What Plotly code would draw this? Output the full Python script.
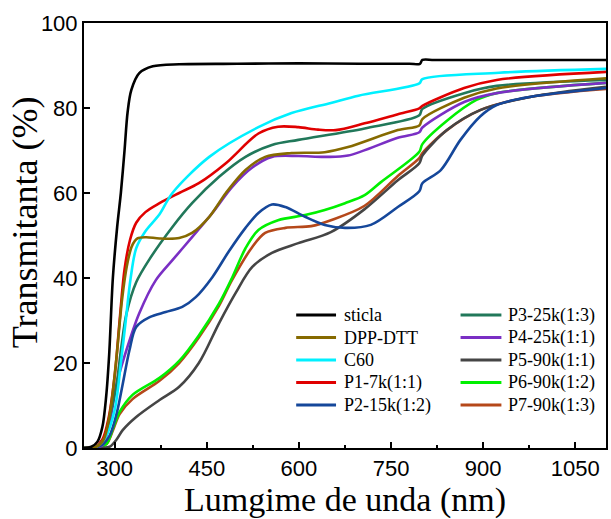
import plotly.graph_objects as go

# Transmittance spectra (wavelength in nm, transmittance in %)
wl_sticla = [250, 262, 272, 280, 286, 291, 297, 304, 310, 316, 321, 327, 340, 362, 405, 500, 600, 700, 780, 797, 801, 820, 900, 1100]
t_sticla = [0, 0.3, 1.5, 5, 12, 22, 40, 52, 60, 70, 79, 84.2, 88.2, 89.8, 90.3, 90.4, 90.5, 90.4, 90.4, 90.4, 91.3, 91.3, 91.3, 91.3]

wl_dpp = [250, 270, 282, 292, 302, 312, 320, 328, 337, 351, 373, 405, 426, 454, 481, 513, 545, 588, 642, 680, 761, 796, 801, 869, 922, 1100]
t_dpp = [0, 0.3, 2, 8, 20, 35, 43, 47.5, 49.3, 49.6, 49.3, 49.4, 50.6, 54.4, 60, 65.4, 68.5, 69.4, 69.6, 70.8, 74.8, 75.9, 77.4, 82.4, 84.6, 87]

wl_c60 = [250, 270, 285, 300, 310, 318, 326, 335, 350, 373, 394, 454, 534, 588, 652, 697, 796, 801, 926, 1100]
t_c60 = [0, 0.3, 2.5, 9, 20, 30, 40, 47, 51, 55, 60, 68.5, 75.5, 78.8, 81.2, 82.9, 85.8, 86.8, 88.3, 89.2]

wl_p1 = [250, 268, 280, 290, 300, 308, 316, 325, 335, 350, 373, 405, 437, 481, 534, 566, 599, 631, 660, 707, 760, 796, 801, 869, 922, 1100]
t_p1 = [0, 0.3, 2, 7, 17, 30, 42, 49, 53, 55.5, 57.6, 60, 62.3, 67, 74, 75.6, 75.5, 74.9, 74.8, 76.4, 78.5, 79.9, 80.5, 84.7, 86.6, 88.5]

wl_p2 = [250, 270, 282, 292, 303, 313, 324, 335, 357, 383, 410, 432, 459, 486, 513, 534, 556, 578, 610, 642, 675, 717, 761, 796, 801, 831, 863, 895, 922, 976, 1100]
t_p2 = [0, 0.2, 1, 3, 8, 15, 23, 28.5, 30.8, 32, 33.2, 35.5, 40.2, 46.3, 51.8, 55.3, 57.3, 56.7, 54.4, 52.5, 51.8, 52.5, 56.7, 60.4, 62.3, 65.4, 72.5, 78, 80.7, 82.6, 84.7]

wl_p3 = [250, 270, 283, 293, 303, 311, 319, 335, 357, 394, 426, 470, 513, 556, 599, 707, 796, 801, 869, 922, 1100]
t_p3 = [0, 0.3, 2.5, 8, 15, 24, 31.5, 39, 44.5, 52, 57.6, 63.8, 68.5, 71.3, 72.5, 75.2, 78.3, 79.8, 83.5, 85.2, 86.6]

wl_p4 = [250, 272, 281, 292, 303, 319, 340, 367, 394, 426, 459, 491, 524, 556, 599, 642, 680, 761, 796, 801, 869, 922, 1100]
t_p4 = [0, 0.2, 0.8, 6, 15, 23, 31.7, 39.5, 44.2, 49.6, 55.3, 61.4, 66, 68.5, 68.7, 68.5, 68.8, 73, 74.3, 75.4, 81.4, 83.5, 85.9]

wl_p5 = [250, 280, 292, 303, 313, 335, 373, 405, 437, 470, 497, 524, 556, 599, 652, 707, 761, 796, 801, 841, 895, 976, 1100]
t_p5 = [0, 0, 0.3, 2, 4.2, 7.3, 11.3, 14.4, 20, 29.4, 36.5, 42.6, 45.9, 48.2, 50.8, 56.2, 63, 67, 68.8, 74.8, 79.5, 82.6, 85]

wl_p6 = [250, 275, 287, 298, 308, 329, 373, 405, 437, 470, 491, 513, 534, 566, 610, 642, 675, 707, 733, 796, 801, 841, 889, 922, 1100]
t_p6 = [0, 0.2, 1, 5, 8.5, 12.5, 16.5, 20.5, 26.5, 34, 40, 47, 51.3, 53.6, 54.8, 56, 57.6, 59.5, 62.5, 69.7, 71.5, 77, 81.9, 83.5, 85.9]

wl_p7 = [250, 275, 287, 298, 308, 329, 373, 405, 437, 470, 491, 524, 545, 578, 620, 652, 707, 761, 796, 801, 841, 895, 976, 1100]
t_p7 = [0, 0.2, 1, 4.5, 8, 11.5, 15.8, 20, 26, 33.5, 39.5, 47.3, 50.6, 51.8, 52.2, 53.6, 57, 64, 68.2, 69.4, 74.8, 79.5, 82.6, 84.5]

x_ticks = [300, 450, 600, 750, 900, 1050]
y_ticks = [0, 20, 40, 60, 80, 100]

series = [
    ("sticla", wl_sticla, t_sticla, "#000000"),
    ("DPP-DTT", wl_dpp, t_dpp, "#866A00"),
    ("C60", wl_c60, t_c60, "#00F0FF"),
    ("P1-7k(1:1)", wl_p1, t_p1, "#E00000"),
    ("P2-15k(1:2)", wl_p2, t_p2, "#15479A"),
    ("P3-25k(1:3)", wl_p3, t_p3, "#21785A"),
    ("P4-25k(1:1)", wl_p4, t_p4, "#7A2FC4"),
    ("P5-90k(1:1)", wl_p5, t_p5, "#454545"),
    ("P6-90k(1:2)", wl_p6, t_p6, "#00F000"),
    ("P7-90k(1:3)", wl_p7, t_p7, "#B5481A"),
]

fig = go.Figure()
# later series first so the glass reference curve ends up on top
for name, xs, ys, color in reversed(series):
    fig.add_trace(go.Scatter(
        x=xs, y=ys, name=name, mode="lines", showlegend=False,
        line=dict(color=color, width=2.6, shape="spline", smoothing=0.9),
    ))

# two-column key in the lower right of the plot area (paper coordinates)
X0, X1 = 84, 608
Y0, Y1 = 448, 23
def px_x(p):
    return (p - X0) / (X1 - X0)
def px_y(p):
    return (Y0 - p) / (Y0 - Y1)

key_font = dict(family="Liberation Serif, Times New Roman, serif", size=18, color="#000")
col_lines = [(297, 337, 343), (462, 503, 508)]
row_y = [315, 337.5, 360, 382.5, 405]
for i, (name, _, _, color) in enumerate(series):
    col, row = divmod(i, 5)
    lx0, lx1, tx = col_lines[col]
    ty = row_y[row]
    fig.add_shape(type="line", xref="paper", yref="paper",
                  x0=px_x(lx0), x1=px_x(lx1), y0=px_y(ty), y1=px_y(ty),
                  line=dict(color=color, width=3))
    fig.add_annotation(xref="paper", yref="paper", x=px_x(tx), y=px_y(ty),
                       text=name, showarrow=False, xanchor="left", yanchor="middle",
                       font=key_font)

tick_font = dict(family="Liberation Sans, Arial, sans-serif", size=22, color="#000")
title_font = dict(family="Liberation Serif, Times New Roman, serif", size=36, color="#000")
xtitle_font = dict(family="Liberation Serif, Times New Roman, serif", size=34, color="#000")

fig.add_annotation(xref="paper", yref="paper", x=px_x(25), y=px_y(222),
                   text="Transmitanta (%)", textangle=-90, showarrow=False,
                   xanchor="center", yanchor="middle", font=title_font)

fig.update_layout(
    width=611, height=519,
    margin=dict(l=84, r=3, t=23, b=71),
    paper_bgcolor="white", plot_bgcolor="white",
    showlegend=False,
    xaxis=dict(
        range=[250, 1100], tickvals=x_ticks, ticks="inside", ticklen=6, tickwidth=2,
        tickcolor="#000", showline=True, linewidth=2, linecolor="#000", mirror=True,
        showgrid=False, zeroline=False, tickfont=tick_font,
        minor=dict(dtick=75, tick0=300, ticks="inside", ticklen=3, tickwidth=2, tickcolor="#000"),
        title=dict(text="Lumgime de unda (nm)", font=xtitle_font, standoff=9),
    ),
    yaxis=dict(
        range=[0, 100], tickvals=y_ticks, ticks="inside", ticklen=6, tickwidth=2,
        tickcolor="#000", showline=True, linewidth=2, linecolor="#000", mirror=True,
        showgrid=False, zeroline=False, tickfont=tick_font,
    ),
)

fig.write_html("out.html")
